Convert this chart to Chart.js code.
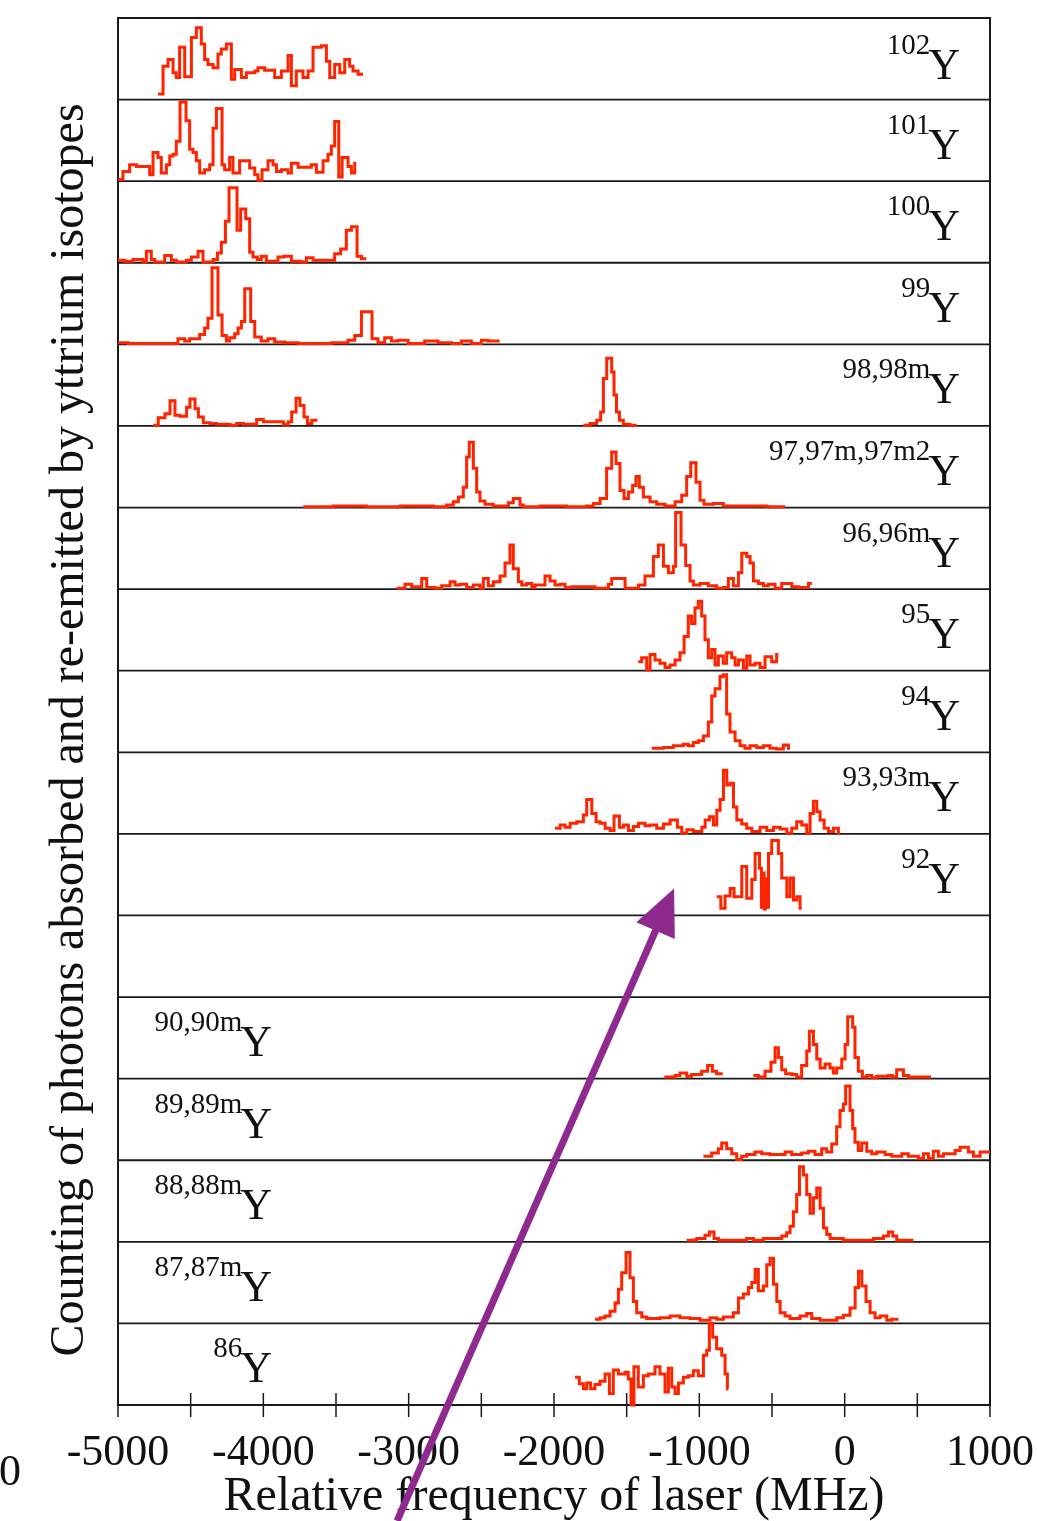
<!DOCTYPE html>
<html>
<head>
<meta charset="utf-8">
<script src="https://cdn.jsdelivr.net/npm/chart.js@4.4.0/dist/chart.umd.min.js"></script>
<style>
html,body{margin:0;padding:0;background:#fff;}
#wrap{width:1037px;height:1521px;position:relative;}
</style>
</head>
<body>
<div id="wrap"><canvas id="c" width="1037" height="1521"></canvas></div>
<script>
// ---------------- data (frequency in MHz, counts in arbitrary units; 100 = panel height) ----------------
const panelLabels = ['102','101','100','99','98,98m','97,97m,97m2','96,96m','95','94','93,93m','92','','90,90m','89,89m','88,88m','87,87m','86'];
const labelOnLeft = [false,false,false,false,false,false,false,false,false,false,false,false,true,true,true,true,true];
const majorTicks = [-5000,-4000,-3000,-2000,-1000,0,1000];
const minorTicks = [-4500,-3500,-2500,-1500,-500,500];
const xTitle = 'Relative frequency of laser (MHz)';
const yTitle = 'Counting of photons absorbed and re-emitted by yttrium isotopes';

const e102 = [-4725,-4690,-4656,-4621,-4599,-4576,-4541,-4495,-4461,-4427,-4404,-4381,-4346,-4312,-4289,-4254,-4220,-4197,-4151,-4117,-4059,-4037,-3991,-3922,-3876,-3830,-3807,-3773,-3727,-3692,-3658,-3601,-3566,-3543,-3509,-3474,-3440,-3406,-3383,-3348,-3314];
const c102 = [7,41,49,33,27,64,28,76,88,68,49,43,39,56,62,68,25,37,27,33,35,39,36,27,35,54,17,35,27,35,64,66,47,27,43,33,49,41,35,31];

const e101 = [-5000,-4966,-4920,-4874,-4828,-4782,-4759,-4725,-4702,-4667,-4644,-4621,-4599,-4573,-4532,-4507,-4484,-4461,-4438,-4404,-4369,-4346,-4323,-4284,-4266,-4232,-4209,-4163,-4128,-4094,-4059,-4037,-4009,-3968,-3933,-3910,-3876,-3830,-3807,-3761,-3727,-3670,-3635,-3589,-3555,-3532,-3509,-3481,-3458,-3417,-3394,-3371,-3360];
const c101 = [2,12,20,18,18,8,35,29,10,20,31,33,49,97,74,39,35,25,10,14,20,65,89,20,14,29,10,25,25,16,8,1,14,25,20,12,14,10,22,17,17,20,11,25,33,43,73,5,29,18,10,22];

const e100 = [-5000,-4954,-4897,-4828,-4805,-4771,-4748,-4679,-4633,-4599,-4530,-4495,-4449,-4415,-4346,-4316,-4289,-4261,-4236,-4181,-4156,-4121,-4094,-4071,-4041,-4014,-3979,-3899,-3860,-3807,-3738,-3704,-3658,-3509,-3468,-3429,-3394,-3355,-3325,-3291];
const c100 = [3,2,4,1,14,4,1,9,3,1,3,7,14,1,4,12,25,51,92,40,66,54,13,7,4,8,2,7,8,2,1,6,3,11,17,40,44,8,5];

const e99 = [-5000,-4931,-4862,-4771,-4587,-4541,-4507,-4438,-4404,-4381,-4353,-4312,-4284,-4254,-4232,-4197,-4174,-4151,-4128,-4087,-4059,-4014,-3968,-3922,-3853,-3761,-3670,-3624,-3532,-3417,-3371,-3325,-3252,-3211,-3165,-3119,-3073,-3004,-2890,-2798,-2706,-2637,-2569,-2500,-2454,-2374];
const c99 = [2,1,1,1,7,4,7,12,20,32,94,36,11,4,8,13,20,28,68,28,9,4,7,3,2,1,1,1,2,5,11,40,7,2,8,4,5,1,4,2,1,4,1,5,4];

const e98a = [-4757,-4723,-4677,-4642,-4608,-4574,-4528,-4505,-4470,-4447,-4413,-4367,-4321,-4229,-4184,-4138,-4046,-4000,-3862,-3828,-3805,-3775,-3748,-3720,-3697,-3667,-3628];
const c98a = [1,10,15,31,13,12,23,33,21,11,4,3,2,1,3,2,8,5,2,5,17,34,25,11,3,7];
const e98b = [-1798,-1752,-1706,-1679,-1660,-1637,-1603,-1587,-1570,-1550,-1523,-1477,-1431];
const c98b = [1,3,7,17,58,83,66,38,17,7,2,1];

const e97 = [-3725,-3519,-3289,-3060,-2922,-2830,-2739,-2693,-2658,-2624,-2601,-2583,-2555,-2532,-2509,-2475,-2418,-2314,-2280,-2234,-2211,-2096,-1913,-1775,-1729,-1683,-1638,-1603,-1573,-1546,-1518,-1488,-1459,-1436,-1413,-1385,-1339,-1293,-1236,-1167,-1121,-1087,-1059,-1023,-995,-968,-903,-835,-766,-536,-410];
const c97 = [1,2,1,2,2,1,3,7,13,25,62,80,48,19,8,4,2,6,11,3,1,2,1,2,5,11,48,68,54,21,11,19,27,38,25,13,7,4,2,7,15,38,55,31,9,4,5,2,2,1];

const e96 = [-3083,-3025,-2979,-2910,-2876,-2819,-2773,-2715,-2681,-2647,-2601,-2555,-2509,-2486,-2452,-2417,-2371,-2337,-2303,-2280,-2245,-2222,-2188,-2153,-2131,-2062,-2027,-1993,-1958,-1924,-1878,-1718,-1626,-1603,-1511,-1419,-1374,-1316,-1282,-1247,-1213,-1179,-1163,-1126,-1094,-1064,-1041,-995,-938,-880,-834,-800,-766,-731,-708,-674,-651,-628,-594,-559,-525,-479,-433,-364,-318,-249,-226];
const c96 = [1,6,3,13,2,1,4,9,5,6,2,5,1,13,4,9,16,32,54,25,9,5,7,2,5,16,10,5,6,2,3,1,6,13,1,5,16,40,54,28,20,28,94,54,29,10,5,7,4,1,2,13,4,20,44,40,32,10,7,4,6,1,7,3,2,7];

const e95 = [-1420,-1397,-1362,-1339,-1305,-1271,-1236,-1202,-1167,-1133,-1105,-1076,-1053,-1030,-1007,-984,-961,-938,-915,-892,-869,-835,-812,-777,-754,-731,-697,-674,-651,-617,-582,-548,-502,-468,-456];
const c95 = [11,16,1,20,13,9,4,7,13,22,42,67,58,77,85,67,38,16,26,7,18,9,22,16,7,13,3,18,7,9,4,17,11,20];

const e94 = [-1328,-1248,-1179,-1110,-1076,-1041,-1007,-972,-938,-915,-892,-858,-835,-812,-789,-754,-720,-686,-651,-605,-559,-514,-468,-422,-387,-376];
const c94 = [5,6,8,10,8,12,14,20,37,69,78,93,95,47,25,14,8,5,8,6,8,5,4,9,5];

const e93 = [-1993,-1958,-1924,-1889,-1843,-1798,-1775,-1740,-1710,-1683,-1648,-1614,-1587,-1550,-1522,-1488,-1454,-1419,-1373,-1339,-1293,-1247,-1201,-1151,-1121,-1086,-1041,-983,-960,-930,-903,-880,-857,-834,-811,-788,-765,-742,-708,-674,-639,-582,-536,-490,-444,-398,-364,-330,-295,-261,-238,-215,-192,-169,-141,-112,-77,-43,-31];
const c93 = [7,11,8,13,15,23,42,25,15,13,7,4,22,8,11,4,9,13,10,11,7,12,17,8,1,5,3,8,17,21,11,29,42,78,60,62,33,17,12,7,3,8,4,8,6,1,7,15,11,1,25,40,27,17,7,3,7,1];

const e92 = [-880,-852,-823,-788,-761,-708,-674,-639,-616,-586,-573,-563,-554,-545,-536,-524,-502,-456,-433,-398,-375,-352,-330,-307,-295];
const c92 = [23,9,24,33,23,60,21,44,76,58,10,52,8,45,10,76,92,76,46,23,46,19,23,9];

const e90a = [-1241,-1167,-1133,-1087,-1053,-984,-943,-910,-881,-839];
const c90a = [2,4,7,3,5,9,16,9,6];
const e90b = [-628,-594,-548,-507,-479,-456,-433,-406,-364,-330,-296,-261,-243,-215,-192,-169,-135,-101,-78,-55,-20,3,21,55,71,94,122,152,186,220,301,328,358,404,438,530,594];
const c90b = [4,2,9,20,38,26,11,6,5,2,16,34,58,42,24,13,18,13,7,13,24,42,76,63,26,9,2,4,1,3,4,2,11,4,2,2];

const e89 = [-972,-915,-869,-846,-812,-777,-743,-709,-674,-617,-571,-514,-410,-364,-296,-250,-204,-158,-124,-89,-55,-32,-9,7,37,55,71,94,117,152,186,220,278,324,393,438,507,542,576,610,645,679,760,794,851,886,932,1000];
const c89 = [5,9,14,21,14,8,1,5,7,10,8,7,10,7,9,11,7,14,10,20,41,61,69,91,61,39,22,12,21,11,8,10,7,5,8,5,2,8,2,11,5,8,12,16,10,5,10];

const e88 = [-1087,-1018,-961,-931,-899,-869,-674,-628,-559,-433,-399,-376,-353,-330,-311,-284,-261,-238,-215,-192,-169,-146,-123,-100,-9,198,267,301,331,358,473];
const c88 = [2,4,8,12,4,2,4,2,4,7,11,19,37,58,92,82,58,35,54,66,41,17,9,4,2,4,7,12,7,2];

const e87 = [-1718,-1683,-1649,-1614,-1580,-1557,-1534,-1504,-1477,-1454,-1431,-1396,-1362,-1270,-1201,-1133,-1064,-995,-926,-880,-834,-766,-731,-697,-662,-639,-616,-594,-559,-536,-513,-490,-467,-444,-410,-376,-307,-261,-227,-169,-54,-9,37,72,95,118,147,175,209,244,290,324,370];
const c87 = [5,7,9,15,25,42,62,87,56,27,13,8,6,7,9,7,6,4,7,5,8,13,31,36,44,50,66,40,46,72,80,48,27,13,9,6,9,12,6,4,7,10,19,44,64,46,27,13,7,9,4,5];

const e86 = [-1856,-1826,-1798,-1775,-1748,-1718,-1684,-1649,-1619,-1592,-1557,-1511,-1489,-1470,-1450,-1420,-1385,-1351,-1305,-1271,-1236,-1213,-1190,-1167,-1144,-1110,-1076,-1041,-1007,-972,-949,-931,-908,-881,-846,-823,-807,-800];
const c86 = [34,26,20,27,20,25,29,38,14,43,38,40,32,0,47,22,36,38,47,38,16,45,22,14,27,34,36,42,36,61,67,100,83,69,61,38,20];

// annotation arrow, in data coordinates (MHz, stacked-count axis)
const arrowTail = {x:-3080, y:-142};
const arrowTip = {x:-1174, y:633};

// ---------------- build ----------------
const PANEL = 100, NPANEL = 17;
const traces = [
  [0,e102,c102],[1,e101,c101],[2,e100,c100],[3,e99,c99],[4,e98a,c98a],[4,e98b,c98b],
  [5,e97,c97],[6,e96,c96],[7,e95,c95],[8,e94,c94],[9,e93,c93],[10,e92,c92],
  [12,e90a,c90a],[12,e90b,c90b],[13,e89,c89],[14,e88,c88],[15,e87,c87],[16,e86,c86]
];
function toPoints(panel, edges, counts){
  const base = (NPANEL-1-panel)*PANEL;
  const n = counts.length;
  const pts = [];
  for (let k=0;k<=n && k<edges.length;k++){
    pts.push({x:edges[k], y: base + counts[Math.min(k,n-1)]});
  }
  return pts;
}
const RED = '#ff2400';
const datasets = traces.map(([p,e,c]) => ({
  label: panelLabels[p] + 'Y',
  data: toPoints(p,e,c),
  borderColor: RED,
  borderWidth: 3,
  pointRadius: 0,
  stepped: true,
  fill: false,
  tension: 0,
  clip: false
}));

const SERIF = '"Liberation Serif", "DejaVu Serif", serif';

const decor = {
  id: 'decor',
  beforeDatasetsDraw(chart){
    const {ctx, chartArea:a, scales:{x,y}} = chart;
    ctx.save();
    ctx.strokeStyle = '#1a1a1a';
    ctx.lineWidth = 1.8;
    for (let k=1;k<NPANEL;k++){
      const py = y.getPixelForValue(k*PANEL);
      ctx.beginPath(); ctx.moveTo(a.left,py); ctx.lineTo(a.right,py); ctx.stroke();
    }
    ctx.lineWidth = 2;
    ctx.strokeRect(a.left, a.top, a.right-a.left, a.bottom-a.top);
    ctx.lineWidth = 1.5;
    for (const t of majorTicks.concat(minorTicks)){
      const px = x.getPixelForValue(t);
      ctx.beginPath(); ctx.moveTo(px, a.bottom-12); ctx.lineTo(px, a.bottom+12); ctx.stroke();
    }
    ctx.restore();
  },
  afterDatasetsDraw(chart){
    const {ctx, chartArea:a, scales:{x,y}} = chart;
    ctx.save();
    ctx.fillStyle = '#111';
    // isotope labels
    panelLabels.forEach((lab,i)=>{
      if (!lab) return;
      const top = y.getPixelForValue((NPANEL-i)*PANEL);
      const base = top + (i === 0 ? 61 : 59);
      const rightX = labelOnLeft[i] ? a.left + 154 : a.right - 30;
      ctx.font = '44px ' + SERIF;
      const wY = ctx.measureText('Y').width;
      ctx.textAlign = 'left'; ctx.textBaseline = 'alphabetic';
      ctx.fillText('Y', rightX - wY, base);
      ctx.font = '29px ' + SERIF;
      ctx.textAlign = 'right';
      ctx.fillText(lab, rightX - wY + 2, base - 25);
    });
    // tick labels
    ctx.font = '44px ' + SERIF;
    ctx.textAlign = 'center'; ctx.textBaseline = 'alphabetic';
    for (const t of majorTicks){
      ctx.fillText(String(t), x.getPixelForValue(t), a.bottom + 60);
    }
    // stray label from neighbouring figure
    ctx.textAlign = 'left';
    ctx.fillText('0', -1, a.bottom + 80);
    // axis titles
    ctx.font = '48px ' + SERIF;
    ctx.textAlign = 'center';
    ctx.fillText(xTitle, (a.left+a.right)/2, a.bottom + 105);
    ctx.save();
    ctx.translate(83, 730);
    ctx.rotate(-Math.PI/2);
    ctx.fillText(yTitle, 0, 0);
    ctx.restore();
    ctx.restore();
  },
  afterDraw(chart){
    const {ctx, scales:{x,y}} = chart;
    const x0 = x.getPixelForValue(arrowTail.x), y0 = y.getPixelForValue(arrowTail.y);
    const x1 = x.getPixelForValue(arrowTip.x), y1 = y.getPixelForValue(arrowTip.y);
    const L = Math.hypot(x1-x0, y1-y0), ux = (x1-x0)/L, uy = (y1-y0)/L;
    const head = 46, hw = 21;
    const bx = x1 - ux*head, by = y1 - uy*head;
    ctx.save();
    ctx.strokeStyle = '#8e2a8e'; ctx.fillStyle = '#8e2a8e';
    ctx.lineWidth = 7;
    ctx.beginPath(); ctx.moveTo(x0,y0); ctx.lineTo(bx+ux*4,by+uy*4); ctx.stroke();
    ctx.beginPath();
    ctx.moveTo(x1,y1);
    ctx.lineTo(bx - uy*hw, by + ux*hw);
    ctx.lineTo(bx + uy*hw, by - ux*hw);
    ctx.closePath(); ctx.fill();
    ctx.restore();
  }
};

new Chart(document.getElementById('c'), {
  type: 'line',
  data: { datasets },
  options: {
    responsive: false,
    animation: false,
    devicePixelRatio: 1,
    layout: { padding: { left: 118, right: 47, top: 18, bottom: 116 } },
    plugins: { legend: { display: false }, tooltip: { enabled: false }, title: { display: false } },
    scales: {
      x: { type: 'linear', min: -5000, max: 1000, display: false },
      y: { type: 'linear', min: 0, max: NPANEL*PANEL, display: false }
    }
  },
  plugins: [decor]
});
</script>
</body>
</html>
